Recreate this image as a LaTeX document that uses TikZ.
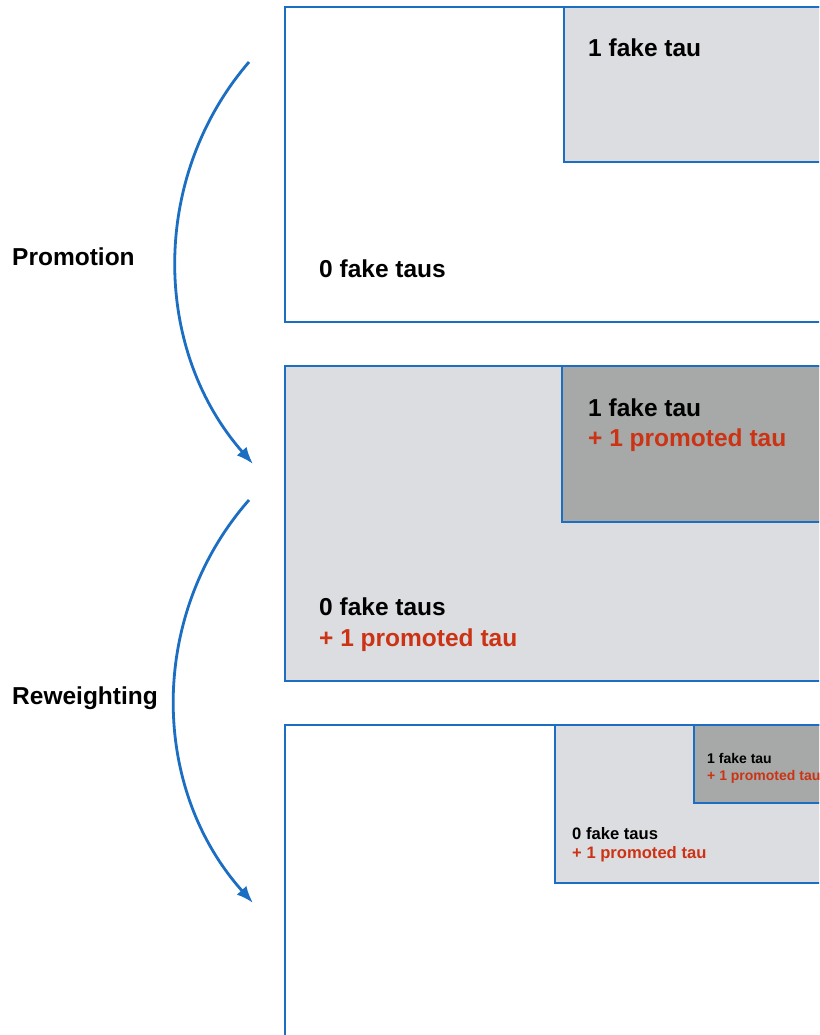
\documentclass[tikz,border=0pt]{standalone}
\usepackage{fontspec}
\setmainfont{Liberation Sans}
\usetikzlibrary{arrows.meta}
\definecolor{bblue}{HTML}{1B6EC2}
\definecolor{lgray}{HTML}{DCDDE1}
\definecolor{dgray}{HTML}{A6A9A7}
\definecolor{tred}{HTML}{CC3314}
\tikzset{
  panel/.style={draw=bblue, line width=2.8pt},
  big/.style={anchor=base west, inner sep=0pt, font=\fontsize{24.5}{30}\selectfont\bfseries},
  mid/.style={anchor=base west, inner sep=0pt, font=\fontsize{16.6}{20}\selectfont\bfseries},
  small/.style={anchor=base west, inner sep=0pt, font=\fontsize{14}{17}\selectfont\bfseries},
  flow/.style={draw=bblue, line width=2.8pt, -{Latex[length=17pt,width=13pt]}},
}
\begin{document}
\begin{tikzpicture}[x=1pt,y=-1pt]
\useasboundingbox (0,0) rectangle (819,1035);
\clip (0,0) rectangle (819,1035);
\fill[white] (0,0) rectangle (819,1035);
% panel 1
\draw[panel, fill=white] (285,7) rectangle (840,322);
\draw[panel, fill=lgray] (564,7) rectangle (840,162);
\node[big] (p1a) at (588,57) {1 fake tau};
\node[big] (p1b) at (319,277) {0 fake taus};
% panel 2
\draw[panel, fill=lgray] (285,366) rectangle (840,681);
\draw[panel, fill=dgray] (562,366) rectangle (840,522);
\node[big] (p2a) at (588,416) {1 fake tau};
\node[big, text=tred] (p2b) at (588,446) {+ 1 promoted tau};
\node[big] (p2c) at (319,615) {0 fake taus};
\node[big, text=tred] (p2d) at (319,646) {+ 1 promoted tau};
% panel 3
\draw[panel, fill=white] (285,725) rectangle (840,1060);
\draw[panel, fill=lgray] (555,725) rectangle (840,883);
\draw[panel, fill=dgray] (694,725) rectangle (840,803);
\node[small] (p3a) at (707,763) {1 fake tau};
\node[small, text=tred] (p3b) at (707,780) {+ 1 promoted tau};
\node[mid] (p3c) at (572,839) {0 fake taus};
\node[mid, text=tred] (p3d) at (572,858) {+ 1 promoted tau};
% labels
\node[big] (lp) at (12,265) {Promotion};
\node[big] (lr) at (12,704) {Reweighting};
% arrows
\coordinate (a1s) at (249,62);
\coordinate (a1e) at (253,464);
\coordinate (a2s) at (249,500);
\coordinate (a2e) at (253,903);
\draw[flow] (a1s) .. controls (150,177) and (152,349) .. (a1e);
\draw[flow] (a2s) .. controls (148,615) and (150,788) .. (a2e);
\end{tikzpicture}
\end{document}
